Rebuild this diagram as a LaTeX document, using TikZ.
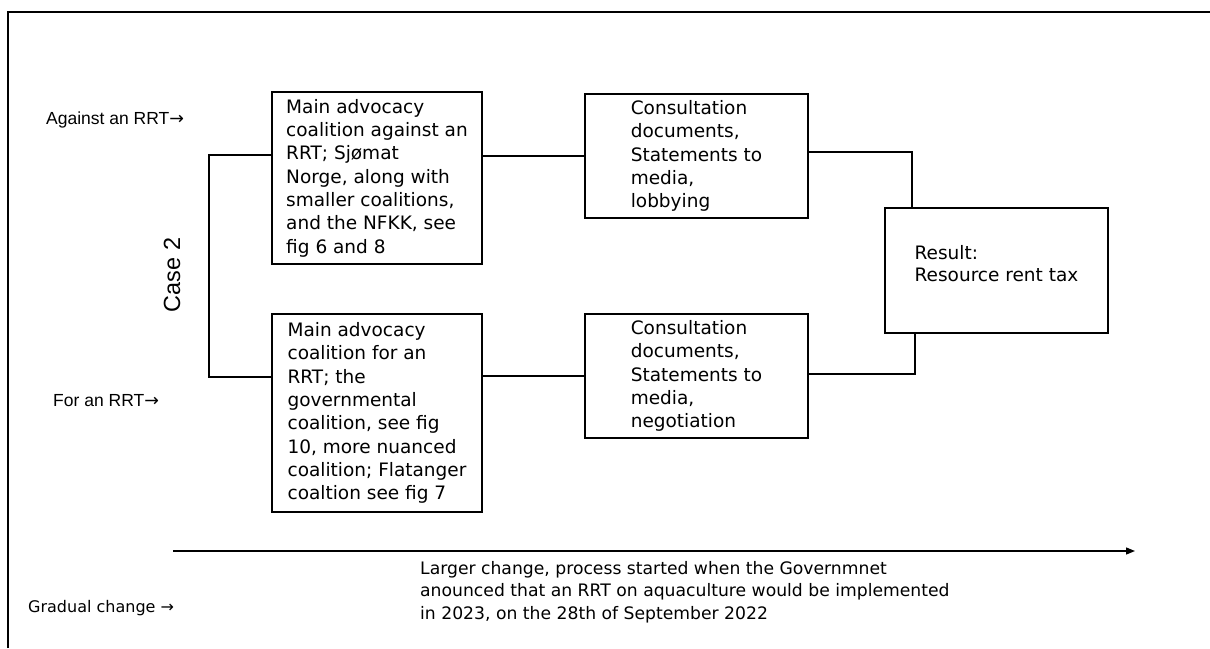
\documentclass[tikz,border=0pt]{standalone}
\usepackage{fontspec}
\setmainfont{DejaVu Sans}
\newfontfamily\labfont{Liberation Sans}
\newfontfamily\arrfont{DejaVu Sans}
\usetikzlibrary{arrows.meta,calc}

\tikzset{
  boxnode/.style={draw=black, line width=1.8pt, align=left, inner sep=0pt,
    font={\fontsize{18.5}{23.3}\selectfont}},
  link/.style={draw=black, line width=1.6pt},
  sidelabel/.style={anchor=base west, inner sep=0pt,
    font={\labfont\fontsize{17.5}{21}\selectfont}},
}

\begin{document}
\begin{tikzpicture}[x=1pt, y=-1pt]
\useasboundingbox (0,0) rectangle (1210,648);

% outer frame (open to the right and bottom)
\draw[line width=2pt] (8,648) -- (8,12) -- (1210,12);

% coalition boxes
\node[boxnode, minimum width=210pt, minimum height=172pt] (b1) at (377,178)
  {Main advocacy\\coalition against an\\RRT; Sjømat\\Norge, along with\\smaller coalitions,\\and the NFKK, see\\fig 6 and 8};
\node[boxnode, minimum width=210pt, minimum height=198pt] (b2) at (377,413)
  {Main advocacy\\coalition for an\\RRT; the\\governmental\\coalition, see fig\\10, more nuanced\\coalition; Flatanger\\coaltion see fig 7};

% activity boxes
\node[boxnode, minimum width=223pt, minimum height=124pt] (b3) at (696.5,156)
  {Consultation\\documents,\\Statements to\\media,\\lobbying};
\node[boxnode, minimum width=223pt, minimum height=124pt] (b4) at (696.5,376)
  {Consultation\\documents,\\Statements to\\media,\\negotiation};

% result box
\node[boxnode, minimum width=223pt, minimum height=125pt] (res) at (996.5,270.5) {};
\node[align=left, inner sep=0pt, font={\fontsize{18.5}{21.7}\selectfont}] (restext)
  at ($(res.center)+(0,-7)$) {Result:\\Resource rent tax};

% bracket joining the two coalitions
\coordinate (ja) at (209,155);
\coordinate (jb) at (209,377);
\draw[link] (b1.west |- ja) -- (ja) -- (jb) -- (b2.west |- jb);

% coalitions to activities
\draw[link] (b1.east |- b3.west) -- (b3.west);
\draw[link] (b2.east |- b4.west) -- (b4.west);

% activities to result
\draw[link] ($(b3.east)+(0,-4)$) -| ($(res.north west)+(28,0)$);
\draw[link] ($(b4.east)+(0,-2)$) -| ($(res.south west)+(31,0)$);

% side labels
\node[sidelabel] (lagainst) at (46,124) {Against an RRT{\arrfont →}};
\node[sidelabel] (lfor) at (53,406) {For an RRT{\arrfont →}};
\node[font={\labfont\fontsize{23.4}{28}\selectfont}, rotate=90, inner sep=0pt] (case) at (172,275) {Case 2};
\node[anchor=base west, inner sep=0pt, font={\fontsize{16}{20}\selectfont}] (lgrad) at (28,612) {Gradual change →};

% timeline
\coordinate (tl0) at (173,551);
\coordinate (tl1) at (1135,551);
\draw[line width=1.3pt, -{Triangle[length=9pt,width=7pt]}] (tl0) -- (tl1);
\node[anchor=north west, align=left, inner sep=0pt, font={\fontsize{17.2}{22.5}\selectfont}] (ltext) at (420,561)
  {Larger change, process started when the Governmnet\\anounced that an RRT on aquaculture would be implemented\\in 2023, on the 28th of September 2022};
\end{tikzpicture}
\end{document}
